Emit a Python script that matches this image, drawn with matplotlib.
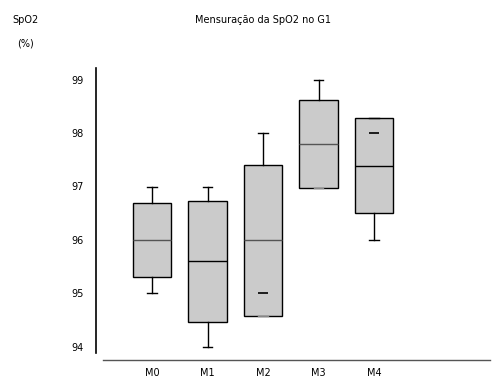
import matplotlib
matplotlib.use("Agg")
import matplotlib.pyplot as plt

labels = ["M0", "M1", "M2", "M3", "M4"]
whislo = [95.0, 94.0, 94.58, 96.97, 96.0]
q1 = [95.3, 94.47, 94.58, 96.97, 96.5]
med = [96.0, 95.6, 96.0, 97.8, 97.38]
q3 = [96.7, 96.73, 97.4, 98.62, 98.28]
whishi = [97.0, 97.0, 98.0, 99.0, 98.28]
extra_pts = {2: 95.0, 4: 98.0}
yticks = [94, 95, 96, 97, 98, 99]
median_colors = ["#555555", "#000000", "#555555", "#555555", "#000000"]

W, H = 494, 381
fig = plt.figure(figsize=(W / 100, H / 100), dpi=100)
plt.rcParams['font.family'] = ['DejaVu Sans']
x0, x1, yt, yb = 96, 490, 68, 360
ax = fig.add_axes([x0 / W, 1 - yb / H, (x1 - x0) / W, (yb - yt) / H])

ppu_y = 53.5
ppu_x = 55.5
ax.set_ylim(94 - (yb - 347) / ppu_y, 94 + (347 - yt) / ppu_y)
ax.set_xlim((x0 - 152) / ppu_x, (x1 - 152) / ppu_x)

stats = []
for i in range(len(labels)):
    stats.append(dict(label=labels[i], whislo=whislo[i], q1=q1[i], med=med[i],
                      q3=q3[i], whishi=whishi[i], fliers=[]))
pos = list(range(len(labels)))
bp = ax.bxp(stats, positions=pos, widths=0.69, patch_artist=True, showfliers=False,
            capwidths=0.18,
            boxprops=dict(facecolor="#cbcbcb", edgecolor="black", linewidth=1.0),
            whiskerprops=dict(color="black", linewidth=1.0),
            capprops=dict(color="black", linewidth=1.0),
            medianprops=dict(color="black", linewidth=1.0))
for m, c in zip(bp["medians"], median_colors):
    m.set_color(c)
for i in (2, 3):
    bp["caps"][2 * i].set_color("#888888")

xs = list(extra_pts.keys())
ys = [extra_pts[k] for k in xs]
ax.scatter(xs, ys, marker="_", s=50, color="black", linewidths=1.2, zorder=5)

ax.set_yticks(yticks)
ax.set_yticklabels([str(t) for t in yticks], fontsize=7)
ax.set_xticks(pos)
ax.set_xticklabels(labels, fontsize=7)
ax.tick_params(axis="y", length=0, pad=9)
ax.tick_params(axis="x", length=0, pad=6)

for s in ("top", "right"):
    ax.spines[s].set_visible(False)
ax.spines["left"].set_bounds(94 - 6 / ppu_y, 94 + (347 - yt) / ppu_y)
ax.spines["left"].set_linewidth(1.2)
ax.spines["bottom"].set_bounds((103 - 152) / ppu_x, (x1 - 152) / ppu_x)
ax.spines["bottom"].set_color("#555555")
ax.spines["bottom"].set_linewidth(1.0)

fig.text(12 / W, 1 - 20 / H, "SpO2", fontsize=7, ha="left", va="center")
fig.text(17 / W, 1 - 43 / H, "(%)", fontsize=7, ha="left", va="center")
fig.text(263 / W, 1 - 20 / H, "Mensuração da SpO2 no G1", fontsize=7, ha="center", va="center")

fig.savefig("out.png", dpi=100)
